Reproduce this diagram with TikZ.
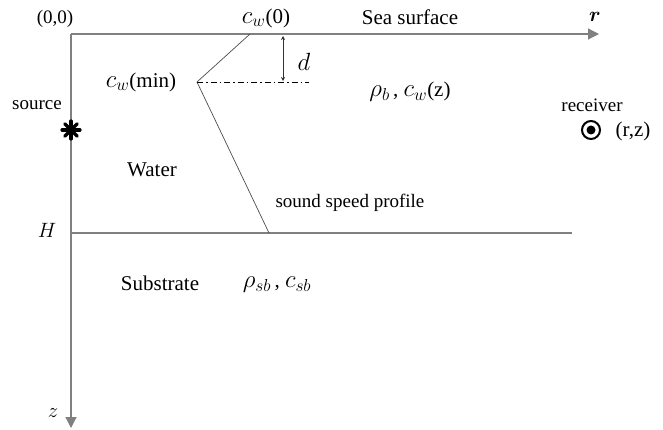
\documentclass[tikz,border=0pt]{standalone}
\usepackage{amsmath,amssymb}
\usepackage{bm}
\usepackage{fontspec}
\setmainfont{Liberation Serif}
\usetikzlibrary{arrows.meta}
\newcommand{\mathbg}[1]{{\fontsize{25}{26}\selectfont$#1$}}
\begin{document}
\begin{tikzpicture}[x=1pt,y=-1pt,
  axis/.style={draw=black!50,line width=1.2pt},
  prof/.style={draw=black!70,line width=0.7pt},
  lbl/.style={font=\fontsize{19}{22}\selectfont,inner sep=0pt},
  big/.style={font=\fontsize{21}{24}\selectfont,inner sep=0pt},
  tip/.style={-{Triangle[length=11pt,width=11pt]}}]
\useasboundingbox (0,0) rectangle (663,430);
% axes
\coordinate (O) at (71,34);
\coordinate (rend) at (599,34);
\coordinate (zend) at (71,428);
\draw[axis,tip] (O) -- (rend);
\draw[axis,tip] (O) -- (zend);
% bottom line
\coordinate (Hl) at (71,233);
\coordinate (Hr) at (572,233);
\draw[axis] (Hl) -- (Hr);
% sound speed profile
\coordinate (p0) at (250,34);
\coordinate (pm) at (197,82);
\coordinate (pH) at (269,233);
\draw[prof] (p0) -- (pm) -- (pH);
\coordinate (de) at (309,82);
\draw[black,line width=0.9pt,dash pattern=on 6pt off 3pt on 1.5pt off 3pt] (pm) -- (de);
\coordinate (dt) at (283,36);
\coordinate (db) at (283,81);
\draw[black!80,line width=0.6pt,{Stealth[length=4pt,width=4pt]}-{Stealth[length=4pt,width=4pt]}] (dt) -- (db);
% labels
\node[lbl] (o00) at (55,19) {(0,0)};
\node[big] (cw0) at (266,18) {\mathbg{c_w}(0)};
\node[big] (sea) at (410,17) {Sea surface};
\node[big] (r) at (595,17) {$\bm{r}$};
\node[big] (d) at (304,62) {\mathbg{d}};
\node[big] (cwmin) at (141,82) {\mathbg{c_w}(min)};
\node[big] (rhob) at (410,92) {\mathbg{\rho_b}\,, \mathbg{c_w}(z)};
\node[lbl] (src) at (37,105) {source};
\node[lbl] (rcv) at (592,105) {receiver};
\node[big] (water) at (152,170) {Water};
\node[lbl] (ssp) at (350,203) {sound speed profile};
\node[big] (H) at (47,230) {$H$};
\node[big] (sub) at (160,283) {Substrate};
\node[big] (rhosb) at (277,285) {\mathbg{\rho_{sb}}\,, \mathbg{c_{sb}}};
\node[big] (z) at (53,413) {$z$};
\node[big] (rz) at (633,131) {(r,z)};
% source star
\coordinate (S) at (71,130);
\foreach \a in {0,45,...,315}
  \draw[line width=3.2pt,line cap=round] (S) -- ++(\a:9);
\fill (S) circle (5);
% receiver
\coordinate (R) at (591,130);
\draw[line width=2pt] (R) circle (9);
\fill (R) circle (4.5);
\end{tikzpicture}
\end{document}
